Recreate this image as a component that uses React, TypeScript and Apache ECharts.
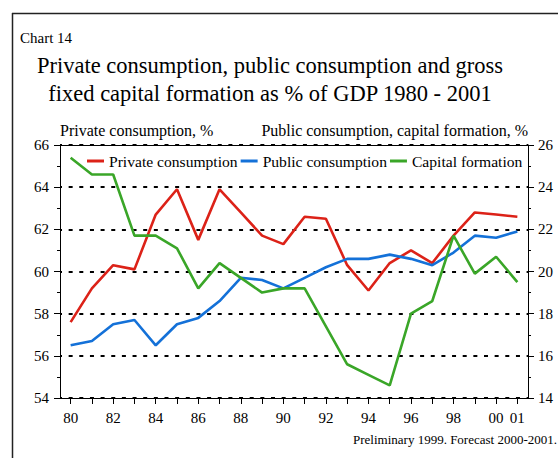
import React, { useEffect, useRef } from "react";
import * as echarts from "echarts";

const years = ["80","81","82","83","84","85","86","87","88","89","90","91","92","93","94","95","96","97","98","99","00","01"];
const shownLabels = ["80","82","84","86","88","90","92","94","96","98","00","01"];
const privateConsumption = [57.6,59.2,60.3,60.1,62.7,63.9,61.5,63.9,62.8,61.7,61.3,62.6,62.5,60.3,59.1,60.4,61.0,60.4,61.7,62.8,62.7,62.6];
const publicConsumption = [16.5,16.7,17.5,17.7,16.5,17.5,17.8,18.6,19.7,19.6,19.2,19.7,20.2,20.6,20.6,20.8,20.6,20.3,20.9,21.7,21.6,21.9];
const capitalFormation = [25.4,24.6,24.6,21.7,21.7,21.1,19.2,20.4,19.7,19.0,19.2,19.2,17.4,15.6,15.1,14.6,18.0,18.6,21.7,19.9,20.7,19.5];

const FONT = "Liberation Serif";

export default function App() {
  const ref = useRef<HTMLDivElement>(null);
  useEffect(() => {
    if (!ref.current) return;
    const chart = echarts.init(ref.current, null, { renderer: "svg" });
    const axisLineStyle = { color: "#000", width: 1 };
    chart.setOption({
      animation: false,
      backgroundColor: "#fff",
      textStyle: { fontFamily: FONT },
      grid: { left: 60, right: 30, top: 145, bottom: 60 },
      legend: {
        top: 148,
        left: 82,
        itemGap: 3,
        itemWidth: 17,
        itemHeight: 3,
        icon: "rect",
        textStyle: { fontFamily: FONT, fontSize: 15.6, color: "#000" },
        data: ["Private consumption", "Public consumption", "Capital formation"],
      },
      xAxis: [
        {
          type: "category",
          data: years,
          boundaryGap: true,
          axisLine: { lineStyle: axisLineStyle },
          axisTick: { show: true, alignWithLabel: true, interval: 0, length: 6, lineStyle: { color: "#000" } },
          axisLabel: {
            interval: 0,
            margin: 12,
            color: "#000",
            fontFamily: FONT,
            fontSize: 15,
            formatter: (v: string) => (shownLabels.includes(v) ? v : ""),
          },
          splitLine: { show: false },
        },
        {
          type: "category",
          data: years,
          position: "top",
          axisLine: { lineStyle: axisLineStyle },
          axisTick: { show: false },
          axisLabel: { show: false },
        },
      ],
      yAxis: [
        {
          type: "value",
          min: 54,
          max: 66,
          interval: 2,
          position: "left",
          axisLine: { show: true, lineStyle: axisLineStyle },
          axisTick: { show: true, length: 6, lineStyle: { color: "#000" } },
          minorTick: { show: true, splitNumber: 2, length: 3, lineStyle: { color: "#000" } },
          axisLabel: { color: "#000", fontFamily: FONT, fontSize: 15, margin: 11 },
          splitLine: { show: true, lineStyle: { color: "#000", type: [4, 6.65], dashOffset: 1.5, width: 1.8 } },
        },
        {
          type: "value",
          min: 14,
          max: 26,
          interval: 2,
          position: "right",
          axisLine: { show: true, lineStyle: axisLineStyle },
          axisTick: { show: true, length: 6, lineStyle: { color: "#000" } },
          minorTick: { show: true, splitNumber: 2, length: 3, lineStyle: { color: "#000" } },
          axisLabel: { color: "#000", fontFamily: FONT, fontSize: 15, margin: 10 },
          splitLine: { show: false },
        },
      ],
      series: [
        {
          name: "Private consumption",
          type: "line",
          data: privateConsumption,
          yAxisIndex: 0,
          showSymbol: false,
          symbol: "none",
          color: "#dc2218",
          lineStyle: { width: 2.6, color: "#dc2218" },
        },
        {
          name: "Public consumption",
          type: "line",
          data: publicConsumption,
          yAxisIndex: 1,
          showSymbol: false,
          symbol: "none",
          color: "#1471d8",
          lineStyle: { width: 2.6, color: "#1471d8" },
        },
        {
          name: "Capital formation",
          type: "line",
          data: capitalFormation,
          yAxisIndex: 1,
          showSymbol: false,
          symbol: "none",
          color: "#3aa628",
          lineStyle: { width: 2.6, color: "#3aa628" },
        },
      ],
      graphic: [
        { type: "line", shape: { x1: 12.5, y1: 13, x2: 12.5, y2: 458 }, style: { stroke: "#222", lineWidth: 1.5 } },
        { type: "line", shape: { x1: 12, y1: 13.5, x2: 558, y2: 13.5 }, style: { stroke: "#222", lineWidth: 1.5 } },
        { type: "text", x: 20, y: 30, style: { text: "Chart 14", fontFamily: FONT, fontSize: 15, fill: "#000" } },
        {
          type: "text",
          x: 270,
          y: 54,
          style: { text: "Private consumption, public consumption and gross", fontFamily: FONT, fontSize: 22.5, fill: "#000", align: "center" },
        },
        {
          type: "text",
          x: 270,
          y: 82,
          style: { text: "fixed capital formation as % of GDP 1980 - 2001", fontFamily: FONT, fontSize: 22.5, fill: "#000", align: "center" },
        },
        { type: "text", x: 60, y: 122, style: { text: "Private consumption, %", fontFamily: FONT, fontSize: 16, fill: "#000", align: "left" } },
        { type: "text", x: 528, y: 122, style: { text: "Public consumption, capital formation, %", fontFamily: FONT, fontSize: 16, fill: "#000", align: "right" } },
        { type: "text", x: 557, y: 433, style: { text: "Preliminary 1999. Forecast 2000-2001.", fontFamily: FONT, fontSize: 13, fill: "#000", align: "right" } },
      ],
    });
    return () => chart.dispose();
  }, []);
  return <div ref={ref} style={{ width: 558, height: 458, position: "absolute", left: 0, top: 0 }} />;
}
